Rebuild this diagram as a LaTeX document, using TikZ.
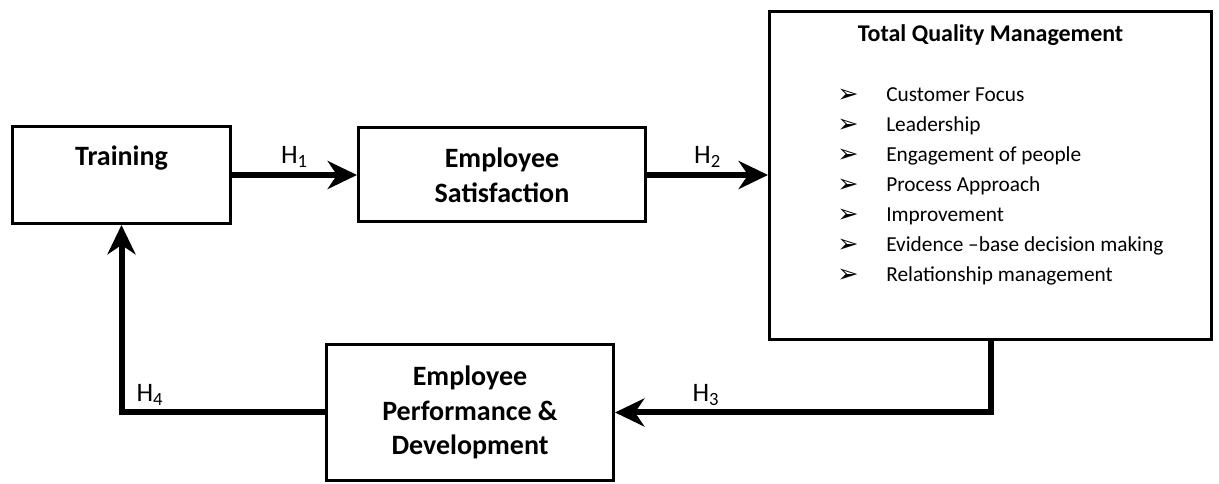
\documentclass[tikz,border=0pt]{standalone}
\usepackage{fontspec}
\setmainfont{Carlito}
\newfontfamily\dingfont{DejaVu Sans}
\usetikzlibrary{arrows.meta,calc,positioning}

\begin{document}
\begin{tikzpicture}[x=0.75pt,y=0.75pt,
  box/.style={draw,line width=2.25pt,inner sep=0pt},
  boxtext/.style={font=\fontsize{21}{26}\selectfont\bfseries,align=center,inner sep=0pt},
  hyp/.style={line width=4.5pt,-{Stealth[length=22pt,width=21pt,inset=7pt]}},
  hlab/.style={font=\fontsize{20}{24}\selectfont,inner sep=1pt,yshift=2pt},
  item/.style={font=\fontsize{16}{20}\selectfont,anchor=base west,inner sep=0pt},
  bullet/.style={font=\dingfont\fontsize{19}{22}\selectfont,anchor=base west,inner sep=0pt}]
\def\step{30}   
\useasboundingbox (0,0) rectangle (1219,484);
% boxes
\node[box,minimum width=163.5pt,minimum height=72.75pt] (train) at (121.5,309) {};
\node[boxtext,anchor=base] (traintext) at ($(train.north)+(0,-40.5)$) {Training};
\node[box,boxtext,minimum width=215.25pt,minimum height=70.5pt] (sat) at (502,309) {Employee\\Satisfaction};
\node[box,minimum width=331.5pt,minimum height=246pt] (tqm) at (990.5,308.5) {};
\node[box,boxtext,minimum width=215.25pt,minimum height=102pt] (perf) at (470,71.5) {Employee\\Performance \&\\Development};
% TQM contents
\node[boxtext,font=\fontsize{18}{22}\selectfont\bfseries,anchor=base] (tqmtitle) at ($(tqm.north)+(0,-32)$) {Total Quality Management};
\foreach \it [count=\i from 0] in {Customer Focus,Leadership,Engagement of people,Process Approach,Improvement,Evidence –base decision making,Relationship management} {
  \node[bullet] (bul\i) at (837,381-\step*\i) {➢};
  \node[item] (item\i) at (886,382.5-\step*\i) {\it};
}
% hypotheses
\draw[hyp] (train.east) -- (sat.west) node[hlab,above,midway] {H\textsubscript{1}};
\draw[hyp] (sat.east) -- (sat.east -| tqm.west) node[hlab,above,midway] {H\textsubscript{2}};
\draw[hyp] (tqm.south) |- (perf.east) node[hlab,above,pos=0.879] {H\textsubscript{3}};
\draw[hyp] (perf.west) -| (train.south) node[hlab,above,pos=0.43] {H\textsubscript{4}};
\end{tikzpicture}
\end{document}
